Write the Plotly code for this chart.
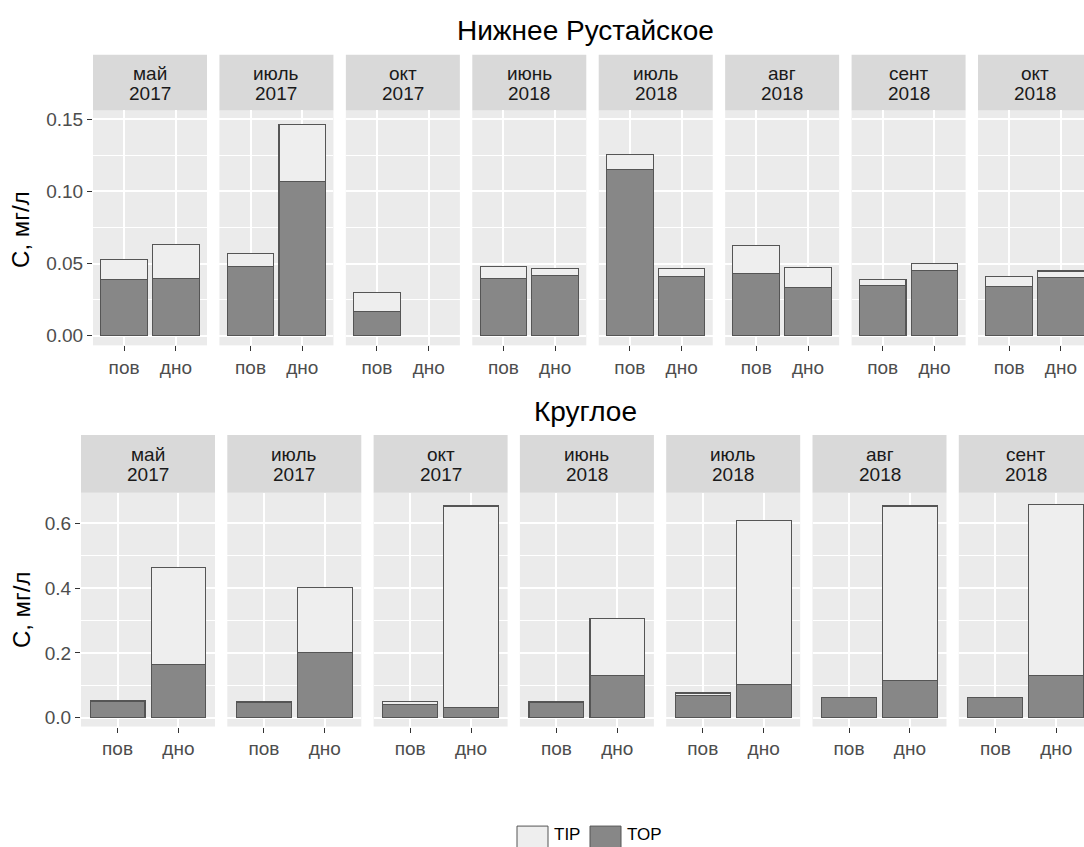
import plotly.graph_objects as go

# ---------------- data ----------------
sites = ["Нижнее Рустайское", "Круглое"]
depth_labels = ["пов", "дно"]

nr_months = ["май", "июль", "окт", "июнь", "июль", "авг", "сент", "окт"]
nr_years = ["2017", "2017", "2017", "2018", "2018", "2018", "2018", "2018"]
nr_top_pov = [0.039, 0.048, 0.0166, 0.040, 0.115, 0.043, 0.035, 0.034]
nr_tip_pov = [0.0137, 0.0088, 0.0137, 0.0079, 0.0104, 0.0197, 0.0038, 0.0068]
nr_top_dno = [0.040, 0.107, None, 0.042, 0.041, 0.0333, 0.0451, 0.0401]
nr_tip_dno = [0.0234, 0.0396, None, 0.0047, 0.0057, 0.0137, 0.0048, 0.0048]

kr_months = ["май", "июль", "окт", "июнь", "июль", "авг", "сент"]
kr_years = ["2017", "2017", "2017", "2018", "2018", "2018", "2018"]
kr_top_pov = [0.049, 0.046, 0.041, 0.046, 0.068, 0.063, 0.063]
kr_tip_pov = [0.005, 0.005, 0.008, 0.004, 0.0085, 0.0, 0.0]
kr_top_dno = [0.165, 0.200, 0.033, 0.130, 0.104, 0.116, 0.130]
kr_tip_dno = [0.299, 0.201, 0.620, 0.175, 0.505, 0.537, 0.527]

nr_yticks = [0.00, 0.05, 0.10, 0.15]
nr_yminor = [0.025, 0.075, 0.125]
kr_yticks = [0.0, 0.2, 0.4, 0.6]
kr_yminor = [0.1, 0.3, 0.5]

# ---------------- styling / layout ----------------
W, H = 1084, 847
FONT = "Liberation Sans, Arial, sans-serif"
PANEL_BG = "#EBEBEB"
STRIP_BG = "#D9D9D9"
TOP_FILL = "#878787"
TIP_FILL = "#EEEEEE"
EDGE = "#555555"
TICK_SIZE = 19


def px(x):
    return x / W


def py(y):
    return 1 - y / H


rows = [
    dict(title=sites[0], months=nr_months, years=nr_years,
         top_pov=nr_top_pov, tip_pov=nr_tip_pov, top_dno=nr_top_dno, tip_dno=nr_tip_dno,
         yticks=nr_yticks, yminor=nr_yminor, fmt="{:.2f}", yrange=[-0.0066, 0.156],
         left=93, pitch=126.43, width=114, strip=(53, 109), panel_bottom=345,
         title_y=29, ytitle_y=229),
    dict(title=sites[1], months=kr_months, years=kr_years,
         top_pov=kr_top_pov, tip_pov=kr_tip_pov, top_dno=kr_top_dno, tip_dno=kr_tip_dno,
         yticks=kr_yticks, yminor=kr_yminor, fmt="{:.1f}", yrange=[-0.027, 0.694],
         left=81, pitch=146.3, width=134, strip=(435, 493), panel_bottom=728,
         title_y=411, ytitle_y=611),
]

fig = go.Figure()
layout = dict(
    width=W, height=H,
    margin=dict(l=0, r=0, t=0, b=0),
    paper_bgcolor="white",
    plot_bgcolor=PANEL_BG,
    barmode="stack",
    bargap=0.1,
    showlegend=False,
    font=dict(family=FONT, color="#4D4D4D"),
)
shapes = []
annotations = []

k = 0
for row in rows:
    n = len(row["months"])
    s_top, s_bot = row["strip"]
    for i in range(n):
        k += 1
        suffix = "" if k == 1 else str(k)
        x0 = row["left"] + i * row["pitch"]
        x1 = x0 + row["width"]
        xr = [0.4, 2.6]
        dom_x1 = x1
        if x1 > W:
            frac = (W - x0) / row["width"]
            xr = [0.4, 0.4 + 2.2 * frac]
            dom_x1 = W
        xs = [1, 2]
        fig.add_trace(go.Bar(
            x=xs, y=[row["top_pov"][i], row["top_dno"][i]],
            width=0.9, marker=dict(color=TOP_FILL, line=dict(color=EDGE, width=1.1)),
            name="TOP", xaxis="x" + suffix, yaxis="y" + suffix, hoverinfo="skip"))
        fig.add_trace(go.Bar(
            x=xs, y=[row["tip_pov"][i], row["tip_dno"][i]],
            width=0.9, marker=dict(color=TIP_FILL, line=dict(color=EDGE, width=1.1)),
            name="TIP", xaxis="x" + suffix, yaxis="y" + suffix, hoverinfo="skip"))
        layout["xaxis" + suffix] = dict(
            domain=[px(x0), px(dom_x1)], range=xr, anchor="y" + suffix,
            tickmode="array", tickvals=[1, 2], ticktext=depth_labels,
            showgrid=True, gridcolor="white", gridwidth=1.5, zeroline=False,
            showline=False, ticks="outside", ticklen=5, tickwidth=1, tickcolor="#333333",
            tickfont=dict(size=TICK_SIZE, color="#4D4D4D", family=FONT), fixedrange=True)
        layout["yaxis" + suffix] = dict(
            domain=[py(row["panel_bottom"]), py(s_bot)], range=row["yrange"],
            anchor="x" + suffix,
            tickmode="array", tickvals=row["yticks"],
            ticktext=[row["fmt"].format(v) for v in row["yticks"]],
            showticklabels=(i == 0), ticks="outside" if i == 0 else "",
            ticklen=5, tickwidth=1, tickcolor="#333333",
            tickfont=dict(size=TICK_SIZE, color="#4D4D4D", family=FONT),
            showgrid=True, gridcolor="white", gridwidth=1.5, zeroline=False, showline=False,
            minor=dict(tickmode="array", tickvals=row["yminor"], showgrid=True,
                       gridcolor="white", gridwidth=0.7),
            fixedrange=True)
        # strip
        shapes.append(dict(type="rect", xref="paper", yref="paper",
                           x0=px(x0), x1=px(x1), y0=py(s_bot), y1=py(s_top),
                           fillcolor=STRIP_BG, line=dict(width=0), layer="below"))
        cy = (s_top + s_bot) / 2 + 1
        annotations.append(dict(xref="paper", yref="paper", x=px((x0 + x1) / 2),
                                y=py(cy - 10), text=row["months"][i],
                                showarrow=False, xanchor="center", yanchor="middle",
                                font=dict(size=TICK_SIZE, color="#1A1A1A", family=FONT)))
        annotations.append(dict(xref="paper", yref="paper", x=px((x0 + x1) / 2),
                                y=py(cy + 10), text=row["years"][i],
                                showarrow=False, xanchor="center", yanchor="middle",
                                font=dict(size=TICK_SIZE, color="#1A1A1A", family=FONT)))
    # row title
    annotations.append(dict(xref="paper", yref="paper", x=px(585), y=py(row["title_y"]),
                            text=row["title"], showarrow=False, xanchor="center",
                            yanchor="middle", font=dict(size=28, color="#000000", family=FONT)))
    # y axis title
    annotations.append(dict(xref="paper", yref="paper", x=px(21), y=py(row["ytitle_y"]),
                            text="С, мг/л", showarrow=False, textangle=-90,
                            xanchor="center", yanchor="middle",
                            font=dict(size=24, color="#000000", family=FONT)))

# legend (drawn manually, ggplot-style big keys)
legend_items = [("TIP", TIP_FILL, 517), ("TOP", TOP_FILL, 590)]
for label, fill, lx in legend_items:
    shapes.append(dict(type="rect", xref="paper", yref="paper",
                       x0=px(lx), x1=px(lx + 31), y0=py(860), y1=py(828),
                       fillcolor=fill, line=dict(color=EDGE, width=1)))
    annotations.append(dict(xref="paper", yref="paper", x=px(lx + 35), y=py(836),
                            text=label, showarrow=False, xanchor="left", yanchor="middle",
                            font=dict(size=17, color="#000000", family=FONT)))

layout["shapes"] = shapes
layout["annotations"] = annotations
fig.update_layout(**layout)
fig.write_html("out.html")
